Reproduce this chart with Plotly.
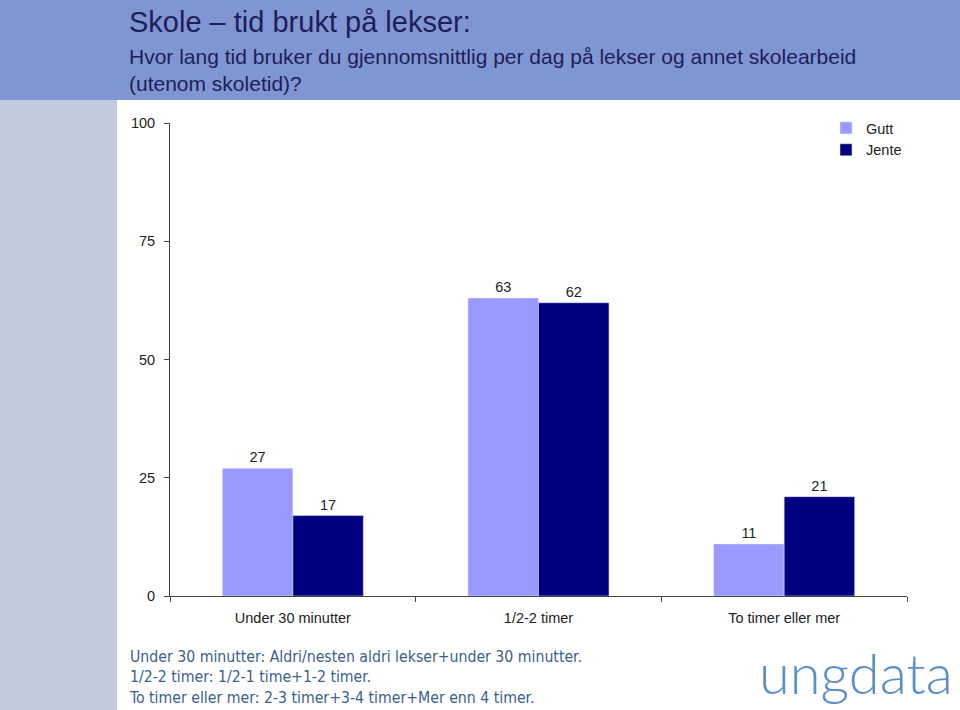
import plotly.graph_objects as go

categories = ["Under 30 minutter", "1/2-2 timer", "To timer eller mer"]
gutt = [27, 63, 11]
jente = [17, 62, 21]
series_names = ["Gutt", "Jente"]
y_ticks = [0, 25, 50, 75, 100]

PW, PH = 737, 473  # plot area size in px
def px(x):
    return (x - 170) / PW
def py(y):
    return (596 - y) / PH

fig = go.Figure()
fig.add_trace(go.Bar(x=categories, y=gutt, name=series_names[0], marker_color="#9999FF",
                     text=gutt, textposition="outside", cliponaxis=False,
                     textfont=dict(size=14.5, color="#222222")))
fig.add_trace(go.Bar(x=categories, y=jente, name=series_names[1], marker_color="#000080",
                     text=jente, textposition="outside", cliponaxis=False,
                     textfont=dict(size=14.5, color="#222222")))

fig.update_layout(
    width=960, height=710,
    margin=dict(l=170, r=53, t=123, b=114),
    paper_bgcolor="white", plot_bgcolor="white",
    barmode="group", bargap=0.426, bargroupgap=0,
    font=dict(family="Liberation Sans, Arial", size=14.5, color="#222222"),
    showlegend=True,
    legend=dict(x=px(826), y=py(112), xanchor="left", yanchor="top", bgcolor="rgba(0,0,0,0)",
                font=dict(size=14.5), itemwidth=30, tracegroupgap=4),
    xaxis=dict(type="category", showline=True, linecolor="#444444", linewidth=1,
               ticks="outside", tickson="boundaries", ticklen=5, tickcolor="#444444",
               showgrid=False, ticklabelstandoff=9),
    yaxis=dict(range=[0, 100], tickvals=y_ticks, showline=True, linecolor="#444444", linewidth=1,
               ticks="outside", ticklen=5, tickcolor="#444444", showgrid=False, zeroline=False,
               ticklabelstandoff=6),
    shapes=[
        dict(type="rect", xref="paper", yref="paper", x0=px(0), x1=px(960),
             y0=py(100), y1=py(-10), fillcolor="#8096D2", line_width=0, layer="below"),
        dict(type="rect", xref="paper", yref="paper", x0=px(0), x1=px(117),
             y0=py(720), y1=py(100), fillcolor="#C0CBDD", line_width=0, layer="below"),
    ],
    annotations=[
        dict(text="Skole – tid brukt på lekser:", xref="paper", yref="paper",
             x=px(127), y=py(4), xanchor="left", yanchor="top", showarrow=False,
             font=dict(size=29, color="#1E1E5A", family="Liberation Sans, Arial")),
        dict(text="Hvor lang tid bruker du gjennomsnittlig per dag på lekser og annet skolearbeid<br>(utenom skoletid)?",
             xref="paper", yref="paper", align="left",
             x=px(127), y=py(43), xanchor="left", yanchor="top", showarrow=False,
             font=dict(size=21, color="#1E1E5A", family="Liberation Sans, Arial")),
        dict(text="Under 30 minutter: Aldri/nesten aldri lekser+under 30 minutter.<br>1/2-2 timer: 1/2-1 time+1-2 timer.<br>To timer eller mer: 2-3 timer+3-4 timer+Mer enn 4 timer.",
             xref="paper", yref="paper", align="left",
             x=px(127), y=py(645), xanchor="left", yanchor="top", showarrow=False,
             font=dict(size=15.7, color="#3A5E8E", family="DejaVu Sans Condensed, DejaVu Sans")),
        dict(text="ungdata", xref="paper", yref="paper",
             x=px(955), y=py(708), xanchor="right", yanchor="bottom", showarrow=False,
             font=dict(size=56, color="#5B8FCB", family="Lato", weight=300)),
    ],
)
fig.write_html("out.html", config={"displayModeBar": False},
               post_script="document.body.style.margin='0';document.body.style.padding='0';")
